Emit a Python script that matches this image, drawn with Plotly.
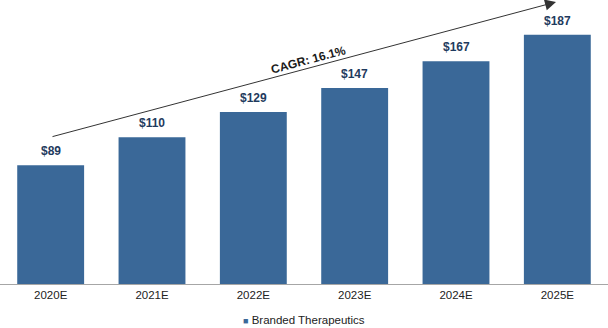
import plotly.graph_objects as go
import math

categories = ["2020E", "2021E", "2022E", "2023E", "2024E", "2025E"]
values = [89, 110, 129, 147, 167, 187]
labels = ["$89", "$110", "$129", "$147", "$167", "$187"]
series_name = "Branded Therapeutics"
cagr_text = "CAGR: 16.1%"

BAR = "#3A6898"
LBL = "#1F3B5E"
FONT = "Liberation Sans, Arial, sans-serif"

W, H = 608, 328
mt, mb = 4, 44
ymax = 210

fig = go.Figure()
fig.add_trace(go.Bar(x=categories, y=values, marker=dict(color=BAR, line=dict(width=0)),
                     width=0.66, showlegend=False, hoverinfo="skip"))

for c, v, t in zip(categories, values, labels):
    fig.add_annotation(x=c, y=v, text="<b>%s</b>" % t, showarrow=False, yanchor="bottom",
                       yshift=5, font=dict(family=FONT, size=12, color=LBL))

ph = H - mt - mb
def py(pix):
    return (H - mb - pix) / ph

# CAGR arrow (pixel geometry of the overlay)
head = (556, 2)
tail = (51, 137)
fig.add_annotation(xref="paper", yref="paper", x=head[0] / W, y=py(head[1]),
                   ax=tail[0] - head[0], ay=tail[1] - head[1], text="", showarrow=True,
                   arrowhead=2, arrowsize=2.2, arrowwidth=1, arrowcolor="#333333", standoff=0)
ang = math.degrees(math.atan2(head[1] - tail[1], head[0] - tail[0]))
fig.add_annotation(xref="paper", yref="paper", x=308 / W, y=py(60), xanchor="center", yanchor="middle",
                   text="<b>%s</b>" % cagr_text,
                   showarrow=False, textangle=ang, font=dict(family=FONT, size=12, color="#1a1a1a"))

# legend
fig.add_annotation(xref="paper", yref="paper", x=0.5, y=py(320), xanchor="center", yanchor="middle",
                   showarrow=False,
                   text='<span style="color:%s;font-size:9px">■</span> %s' % (BAR, series_name),
                   font=dict(family=FONT, size=11.5, color="#222222"))

fig.update_layout(
    width=W, height=H, margin=dict(l=0, r=0, t=mt, b=mb),
    paper_bgcolor="white", plot_bgcolor="white", bargap=0.34,
    xaxis=dict(showline=True, linecolor="#A6A6A6", linewidth=1, ticks="", showgrid=False,
               tickfont=dict(family=FONT, size=11.5, color="#222222"), fixedrange=True),
    yaxis=dict(range=[0, ymax], visible=False, showgrid=False, fixedrange=True),
)

fig.write_html("out.html")
